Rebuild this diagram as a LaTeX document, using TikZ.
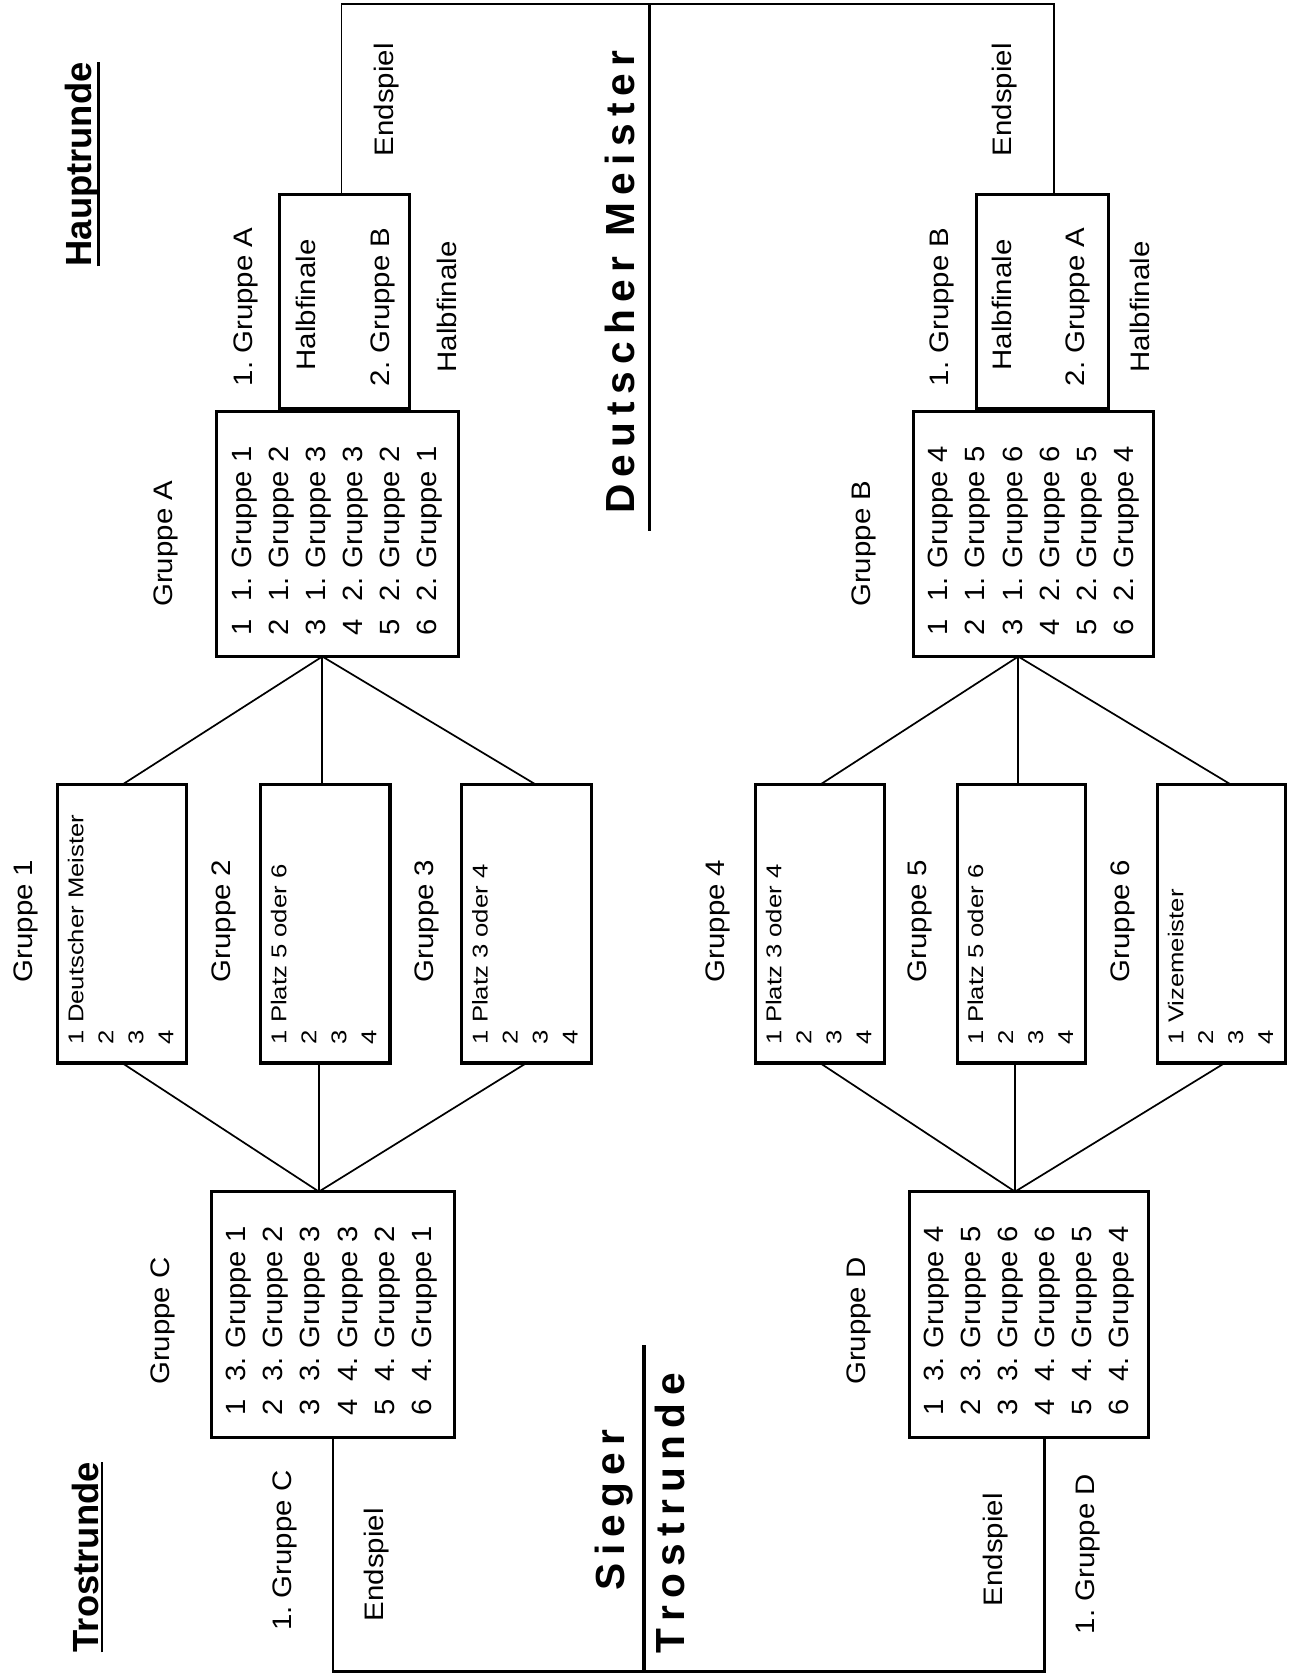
\documentclass[tikz,border=0pt]{standalone}
\usepackage{fontspec}
\setmainfont{Liberation Sans}
\usepackage{graphicx}
\usetikzlibrary{calc}
\frenchspacing
\newcommand\lspaced[1]{\lspaux#1\relax}
\def\lspaux#1{\ifx#1\relax\else#1\kern6.8pt\expandafter\lspaux\fi}
\newcommand\lx[1]{\scalebox{1.1}[1]{#1}}
\newcommand\bxs[1]{\scalebox{1.05}[1]{#1}}
\newcommand\smx[1]{\scalebox{1.2}[1]{#1}}
\newcommand\bigrows[4]{%
  \foreach \r/\k/\g [count=\i from 0] in {#4} {
    \node[btxt] (#1r\r) at (#2+33.8+34.6*\i, #3+211) {\bxs{\r}};
    \node[btxt] (#1k\r) at (#2+33.8+34.6*\i, #3+179) {\bxs{\k}};
    \node[btxt] (#1g\r) at (#2+33.8+34.6*\i, #3+148) {\bxs{Gruppe \g}};
  }}
\newcommand\smallrows[4]{%
  \node[stxt] (#1t1) at (#2+25.7, #3-19) {\smx{1 #4}};
  \node[stxt] (#1t2) at (#2+53.7, #3-19) {\smx{2}};
  \node[stxt] (#1t3) at (#2+81.7, #3-19) {\smx{3}};
  \node[stxt] (#1t4) at (#2+109.7, #3-19) {\smx{4}};}
\begin{document}
\begin{tikzpicture}[x=1pt,y=-1pt,
  tbox/.style={draw, line width=3pt, inner sep=0pt, outer sep=0pt},
  conn/.style={line width=1.6pt},
  heavy/.style={line width=3.5pt},
  rtext/.style={rotate=90, anchor=base west, inner sep=0pt, outer sep=0pt},
  lbl/.style={rtext, font=\fontsize{25}{30}\selectfont},
  btxt/.style={rtext, font=\fontsize{26}{30}\selectfont},
  stxt/.style={rtext, font=\fontsize{20}{24}\selectfont},
  headtxt/.style={rtext, font=\fontsize{34}{40}\selectfont\bfseries},
  bigtxt/.style={rtext, font=\fontsize{38}{44}\selectfont\bfseries},
  uline/.style={line width=2.5pt}]
\fill[white] (0,0) rectangle (1205,1568);
\useasboundingbox (0,0) rectangle (1205,1568);

% ---------- boxes ----------
\node[tbox, minimum width=121pt, minimum height=200pt] (hA) at (322,281.5) {};
\node[tbox, minimum width=226pt, minimum height=229pt] (gA) at (315.2,499) {};
\node[tbox, minimum width=123pt, minimum height=200pt] (hB) at (974,281.5) {};
\node[tbox, minimum width=224pt, minimum height=229pt] (gB) at (965.5,499) {};
\node[tbox, minimum width=120.6pt, minimum height=260pt] (g1) at (114.1,863.3) {};
\node[tbox, minimum width=121pt, minimum height=260pt] (g2) at (304,863.3) {};
\node[tbox, minimum width=121pt, minimum height=260pt] (g3) at (492,863.3) {};
\node[tbox, minimum width=120.5pt, minimum height=260pt] (g4) at (766.2,863.3) {};
\node[tbox, minimum width=120pt, minimum height=260pt] (g5) at (954.5,863.3) {};
\node[tbox, minimum width=120pt, minimum height=260pt] (g6) at (1141.5,863.3) {};
\node[tbox, minimum width=227pt, minimum height=230pt] (gC) at (311,1228.5) {};
\node[tbox, minimum width=224pt, minimum height=230pt] (gD) at (961.5,1228.5) {};

% ---------- connectors ----------
\coordinate (tl) at (319,4);
\coordinate (tr) at (985,4);
\draw[conn] (hA.north -| tl) -- (tl) -- (tr) -- (hB.north -| tr);
\coordinate (dmtop) at (607,4);
\coordinate (dmbot) at (607,496);
\draw[heavy] (dmtop) -- (dmbot);

\coordinate (cA) at ($(gA.south)+(-14,0)$);
\draw[conn] (cA) -- (g1.north);
\draw[conn] (cA) -- (g2.north -| cA);
\draw[conn] (cA) -- ($(g3.north)+(9,0)$);
\coordinate (cC) at ($(gC.north)+(-13,0)$);
\draw[conn] (g1.south) -- (cC);
\draw[conn] (g2.south -| cC) -- (cC);
\draw[conn] (g3.south) -- (cC);

\coordinate (cB) at ($(gB.south)+(-14,0)$);
\draw[conn] (cB) -- (g4.north);
\draw[conn] (cB) -- (g5.north -| cB);
\draw[conn] (cB) -- ($(g6.north)+(9,0)$);
\coordinate (cD) at ($(gD.north)+(-13,0)$);
\draw[conn] (g4.south) -- (cD);
\draw[conn] (g5.south -| cD) -- (cD);
\draw[conn] ($(g6.south)+(3,0)$) -- (cD);

\coordinate (bl) at (311,1562);
\coordinate (br) at (976,1562);
\draw[line width=2.2pt] (gC.south) -- (bl) -- (br) -- (gD.south -| br);
\coordinate (sgtop) at (602,1257);
\coordinate (sgbot) at (602,1562);
\draw[heavy] (sgtop) -- (sgbot);

% ---------- headings ----------
\node[headtxt] (hr) at (85.6,249) {Hauptrunde};
\draw[uline] ($(hr.base west)+(6.4,0)$) -- ($(hr.base east)+(6.4,0)$);
\node[headtxt] (trh) at (91.8,1544) {Trostrunde};
\draw[uline] ($(trh.base west)+(3.5,0)$) -- ($(trh.base east)+(3.5,0)$);
\node[bigtxt] (dm) at (593,480) {\lspaced{Deutscher}\kern12pt\lspaced{Meister}};
\node[bigtxt] (sg) at (584,1486) {\lspaced{Sieger}};
\node[bigtxt] (trb) at (640,1545) {\lspaced{Trostrunde}};

% ---------- labels ----------
\node[lbl] (l1A) at (236,361) {\lx{1. Gruppe A}};
\node[lbl] (lhA) at (295,346) {\lx{Halbfinale}};
\node[lbl] (l2B) at (364,361) {\lx{2. Gruppe B}};
\node[lbl] (lhA2) at (427,348) {\lx{Halbfinale}};
\node[lbl] (leA) at (368,146) {\lx{Endspiel}};
\node[lbl] (lgA) at (161,567) {\lx{Gruppe A}};
\node[lbl] (l1B) at (886,361) {\lx{1. Gruppe B}};
\node[lbl] (lhB) at (945,346) {\lx{Halbfinale}};
\node[lbl] (l2A) at (1013,361) {\lx{2. Gruppe A}};
\node[lbl] (lhB2) at (1074,348) {\lx{Halbfinale}};
\node[lbl] (leB) at (945,146) {\lx{Endspiel}};
\node[lbl] (lgB) at (813,567) {\lx{Gruppe B}};
\node[lbl] (lg1) at (30,918) {\lx{Gruppe 1}};
\node[lbl] (lg2) at (215,918) {\lx{Gruppe 2}};
\node[lbl] (lg3) at (405,918) {\lx{Gruppe 3}};
\node[lbl] (lg4) at (677,918) {\lx{Gruppe 4}};
\node[lbl] (lg5) at (866,918) {\lx{Gruppe 5}};
\node[lbl] (lg6) at (1055,918) {\lx{Gruppe 6}};
\node[lbl] (lgC) at (158,1294) {\lx{Gruppe C}};
\node[lbl] (lgD) at (809,1294) {\lx{Gruppe D}};
\node[lbl] (l1C) at (272,1524) {\lx{1. Gruppe C}};
\node[lbl] (leC) at (358,1515) {\lx{Endspiel}};
\node[lbl] (l1D) at (1023,1527) {\lx{1. Gruppe D}};
\node[lbl] (leD) at (937,1501) {\lx{Endspiel}};

% ---------- box contents ----------
\bigrows{tA}{200.8}{383}{1/1./1,2/1./2,3/1./3,4/2./3,5/2./2,6/2./1}
\bigrows{tB}{852}{383}{1/1./4,2/1./5,3/1./6,4/2./6,5/2./5,6/2./4}
\bigrows{tC}{196}{1112}{1/3./1,2/3./2,3/3./3,4/4./3,5/4./2,6/4./1}
\bigrows{tD}{848}{1112}{1/3./4,2/3./5,3/3./6,4/4./6,5/4./5,6/4./4}
\smallrows{s1}{52.3}{994.9}{Deutscher Meister}
\smallrows{s2}{242}{994.9}{Platz 5 oder 6}
\smallrows{s3}{430}{994.9}{Platz 3 oder 4}
\smallrows{s4}{704.5}{994.9}{Platz 3 oder 4}
\smallrows{s5}{893}{994.9}{Platz 5 oder 6}
\smallrows{s6}{1080}{994.9}{Vizemeister}
\end{tikzpicture}
\end{document}
